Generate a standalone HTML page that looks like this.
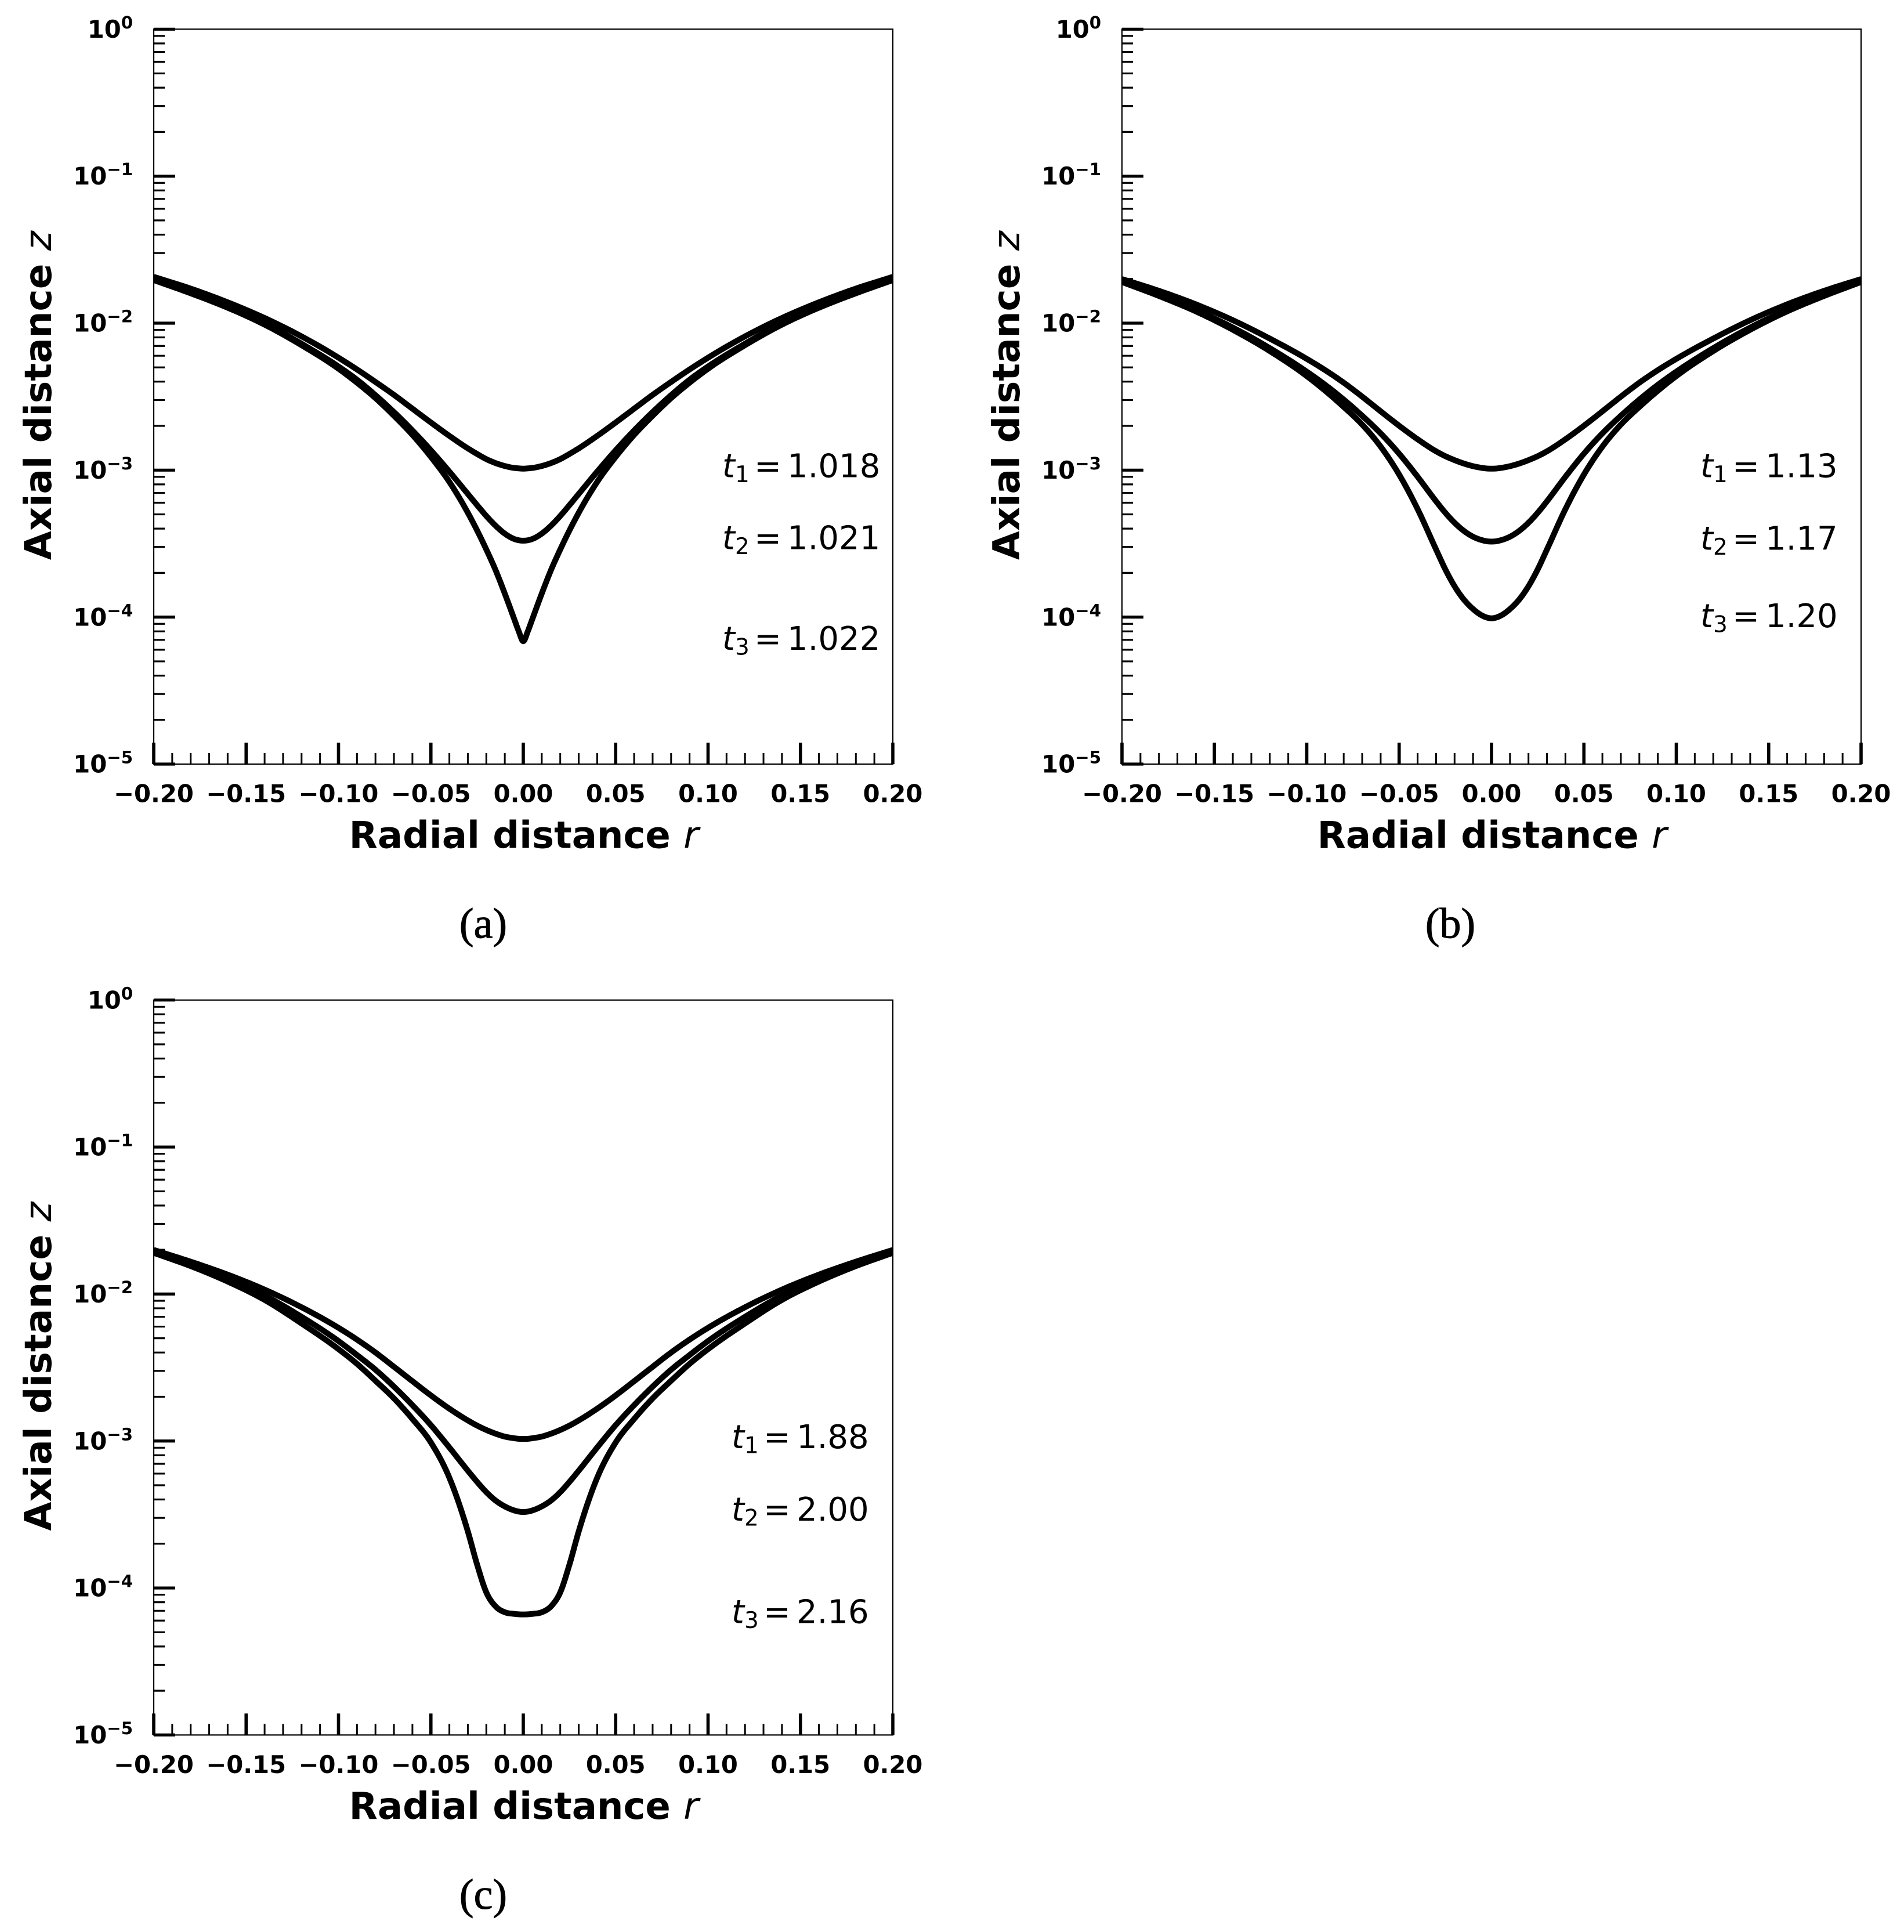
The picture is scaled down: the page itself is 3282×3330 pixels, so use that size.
<!DOCTYPE html>
<html lang="en">
<head>
<meta charset="utf-8">
<title>Axial distance versus radial distance</title>
<style>
html,body{margin:0;padding:0;background:#fff;}
svg{display:block;}
text{fill:#000;font-family:"DejaVu Sans","Liberation Sans",sans-serif;}
</style>
</head>
<body>
<svg id="figure" xmlns="http://www.w3.org/2000/svg" width="3282" height="3330" viewBox="0 0 3282 3330"></svg>
<script>
// Radial samples (half profile; each profile is axisymmetric and is mirrored about r = 0)
const radii = [0,0.0025,0.005,0.01,0.015,0.02,0.025,0.03,0.04,0.05,0.06,0.07,0.08,0.09,0.10,0.12,0.14,0.16,0.18,0.20];

// log10(z)
const panelA_t1 = [-2.99,-2.988,-2.985,-2.972,-2.952,-2.925,-2.890,-2.852,-2.767,-2.676,-2.582,-2.488,-2.40,-2.315,-2.235,-2.09,-1.965,-1.858,-1.765,-1.685];
const panelA_t2 = [-3.48,-3.477,-3.468,-3.432,-3.378,-3.312,-3.238,-3.162,-3.01,-2.865,-2.73,-2.605,-2.49,-2.385,-2.295,-2.14,-2.0,-1.88,-1.78,-1.695];
const panelA_t3 = [-4.164,-4.095,-4.01,-3.84,-3.68,-3.54,-3.41,-3.29,-3.08,-2.91,-2.76,-2.63,-2.51,-2.405,-2.31,-2.15,-2.01,-1.895,-1.797,-1.707];

const panelB_t1 = [-2.99,-2.989,-2.985,-2.973,-2.955,-2.932,-2.905,-2.872,-2.79,-2.698,-2.60,-2.50,-2.405,-2.32,-2.243,-2.105,-1.98,-1.872,-1.78,-1.70];
const panelB_t2 = [-3.486,-3.484,-3.477,-3.453,-3.413,-3.358,-3.29,-3.212,-3.045,-2.888,-2.75,-2.63,-2.52,-2.42,-2.33,-2.17,-2.03,-1.91,-1.805,-1.71];
const panelB_t3 = [-4.008,-4.003,-3.99,-3.945,-3.88,-3.79,-3.675,-3.54,-3.265,-3.03,-2.84,-2.69,-2.57,-2.46,-2.36,-2.19,-2.045,-1.92,-1.815,-1.72];

const panelC_t1 = [-2.986,-2.985,-2.981,-2.97,-2.95,-2.925,-2.895,-2.86,-2.78,-2.69,-2.593,-2.495,-2.398,-2.31,-2.23,-2.09,-1.97,-1.868,-1.78,-1.70];
const panelC_t2 = [-3.483,-3.48,-3.472,-3.445,-3.405,-3.348,-3.278,-3.202,-3.044,-2.892,-2.756,-2.63,-2.515,-2.415,-2.32,-2.155,-2.01,-1.895,-1.80,-1.71];
const panelC_t3 = [-4.18,-4.179,-4.176,-4.165,-4.125,-4.03,-3.84,-3.615,-3.25,-3.01,-2.85,-2.71,-2.59,-2.475,-2.375,-2.20,-2.04,-1.915,-1.81,-1.72];

// Axis ticks
const rMajorTicks = [-0.20,-0.15,-0.10,-0.05,0.00,0.05,0.10,0.15,0.20];
const rTickLabels = ['\u22120.20','\u22120.15','\u22120.10','\u22120.05','0.00','0.05','0.10','0.15','0.20'];
const rMinorPerMajor = 5;
const zDecades = [0,-1,-2,-3,-4,-5];
const zDecadeLabels = ['0','\u22121','\u22122','\u22123','\u22124','\u22125'];
const zMinorMultipliers = [2,3,4,5,6,7,8,9];

// Printed times
const panelA_times = ['1.018','1.021','1.022'];
const panelB_times = ['1.13','1.17','1.20'];
const panelC_times = ['1.88','2.00','2.16'];

const NS = 'http://www.w3.org/2000/svg';
const svg = document.getElementById('figure');
const PW = 1274, PH = 1266.7;

function make(parent, tag, attrs, txt){
  const e = document.createElementNS(NS, tag);
  for (const k in attrs) e.setAttribute(k, attrs[k]);
  if (txt !== undefined) e.textContent = txt;
  parent.appendChild(e);
  return e;
}

function profilePath(values, X, Y){
  const xs = [], ys = [];
  for (let i = radii.length - 1; i > 0; i--){ xs.push(X(-radii[i])); ys.push(Y(values[i])); }
  for (let i = 0; i < radii.length; i++){ xs.push(X(radii[i])); ys.push(Y(values[i])); }
  const n = xs.length, m = [];
  for (let i = 0; i < n; i++){
    if (i === 0){ m.push((ys[1] - ys[0]) / (xs[1] - xs[0])); continue; }
    if (i === n - 1){ m.push((ys[n-1] - ys[n-2]) / (xs[n-1] - xs[n-2])); continue; }
    const h0 = xs[i] - xs[i-1], h1 = xs[i+1] - xs[i];
    const d0 = (ys[i] - ys[i-1]) / h0, d1 = (ys[i+1] - ys[i]) / h1;
    m.push((h1 * d0 + h0 * d1) / (h0 + h1));
  }
  let d = 'M' + xs[0].toFixed(2) + ' ' + ys[0].toFixed(2);
  for (let i = 0; i < n - 1; i++){
    const h = xs[i + 1] - xs[i];
    for (let s = 1; s <= 10; s++){
      const t = s / 10, t2 = t * t, t3 = t2 * t;
      const py = (2*t3 - 3*t2 + 1) * ys[i] + (t3 - 2*t2 + t) * h * m[i] + (-2*t3 + 3*t2) * ys[i + 1] + (t3 - t2) * h * m[i + 1];
      d += 'L' + (xs[i] + h * t).toFixed(2) + ' ' + py.toFixed(2);
    }
  }
  return d;
}

function drawPanel(key, ox, oy, series, times, annX, annBase, caption, captionX, captionBase){
  const X = r => ox + (r + 0.2) / 0.4 * PW;
  const Y = lg => oy - lg / 5 * PH;
  const g = make(svg, 'g', {});
  
  

  const clip = make(g, 'clipPath', {id: 'clip-' + key});
  make(clip, 'rect', {x: ox, y: oy, width: PW, height: PH});

  // curves
  series.forEach((values, i) => {
    const p = make(g, 'path', {d: profilePath(values, X, Y), fill: 'none', stroke: '#000', 'stroke-width': 10, 'stroke-linejoin': 'round', 'clip-path': 'url(#clip-' + key + ')'});
    
    
  });

  // spines
  const frame = make(g, 'rect', {x: ox, y: oy, width: PW, height: PH, fill: 'none', stroke: '#000', 'stroke-width': 2.2});
  
  

  // x ticks and labels
  rMajorTicks.forEach((r, i) => {
    const t = make(g, 'line', {x1: X(r), x2: X(r), y1: oy + PH, y2: oy + PH - 37, stroke: '#000', 'stroke-width': 5.6});
    
    
    const lab = make(g, 'text', {x: X(r), y: oy + PH + 65.5, 'text-anchor': 'middle', 'font-size': 41.67, 'font-weight': 700}, rTickLabels[i]);
    
    
    if (i < rMajorTicks.length - 1){
      const step = (rMajorTicks[i + 1] - r) / rMinorPerMajor;
      for (let k = 1; k < rMinorPerMajor; k++){
        const mt = make(g, 'line', {x1: X(r + k * step), x2: X(r + k * step), y1: oy + PH, y2: oy + PH - 19, stroke: '#000', 'stroke-width': 3});
        
        
      }
    }
  });

  // y ticks and labels
  zDecades.forEach((d, i) => {
    const t = make(g, 'line', {x1: ox, x2: ox + 37, y1: Y(d), y2: Y(d), stroke: '#000', 'stroke-width': 5.2});
    
    
    const lab = make(g, 'text', {x: ox - 36, y: Y(d) + 14.6, 'text-anchor': 'end', 'font-size': 41.67, 'font-weight': 700});
    
    
    make(lab, 'tspan', {}, '10');
    make(lab, 'tspan', {dy: -16, 'font-size': 29.2}, zDecadeLabels[i]);
    if (d > -5){
      zMinorMultipliers.forEach(mult => {
        const v = d - 1 + Math.log10(mult);
        const mt = make(g, 'line', {x1: ox, x2: ox + 19, y1: Y(v), y2: Y(v), stroke: '#000', 'stroke-width': 3.2});
        
        
      });
    }
  });

  // axis titles
  const xt = make(g, 'text', {x: ox + 638, y: oy + PH + 144.5, 'text-anchor': 'middle', 'font-size': 64, 'font-weight': 700});
  
  
  make(xt, 'tspan', {}, 'Radial distance ');
  make(xt, 'tspan', {'font-style': 'italic', 'font-weight': 400}, 'r');

  const yx = ox - 177, yy = oy + PH / 2 - 2;
  const yt = make(g, 'text', {x: yx, y: yy, 'text-anchor': 'middle', 'font-size': 64.5, 'font-weight': 700, transform: 'rotate(-90 ' + yx + ' ' + yy + ')'});
  
  
  make(yt, 'tspan', {}, 'Axial distance ');
  make(yt, 'tspan', {'font-style': 'italic', 'font-weight': 400}, 'z');

  // time annotations
  times.forEach((val, i) => {
    const a = make(g, 'text', {y: annBase[i], 'font-size': 56});
    
    
    make(a, 'tspan', {x: annX, 'font-style': 'italic'}, 't');
    make(a, 'tspan', {x: annX + 22, dy: 8.5, 'font-size': 39}, String(i + 1));
    make(a, 'tspan', {x: annX + 55, dy: -8.5}, '=');
    make(a, 'tspan', {x: annX + 112}, val);
  });

  // caption
  const c = make(g, 'text', {x: captionX, y: captionBase, 'text-anchor': 'middle', 'font-size': 74, stroke: '#000', 'stroke-width': 1, style: 'font-family:"Liberation Serif",serif'}, caption);
  
  
}

drawPanel('a', 265, 50.3, [panelA_t1, panelA_t2, panelA_t3], panelA_times, 1245, [822.7, 946.7, 1120], '(a)', 833, 1616.7);
drawPanel('b', 1934, 50.3, [panelB_t1, panelB_t2, panelB_t3], panelB_times, 2931, [822.7, 947.7, 1081], '(b)', 2500, 1616.7);
drawPanel('c', 265, 1723.7, [panelC_t1, panelC_t2, panelC_t3], panelC_times, 1261, [2496, 2621, 2797.7], '(c)', 833, 3290);
</script>
</body>
</html>
